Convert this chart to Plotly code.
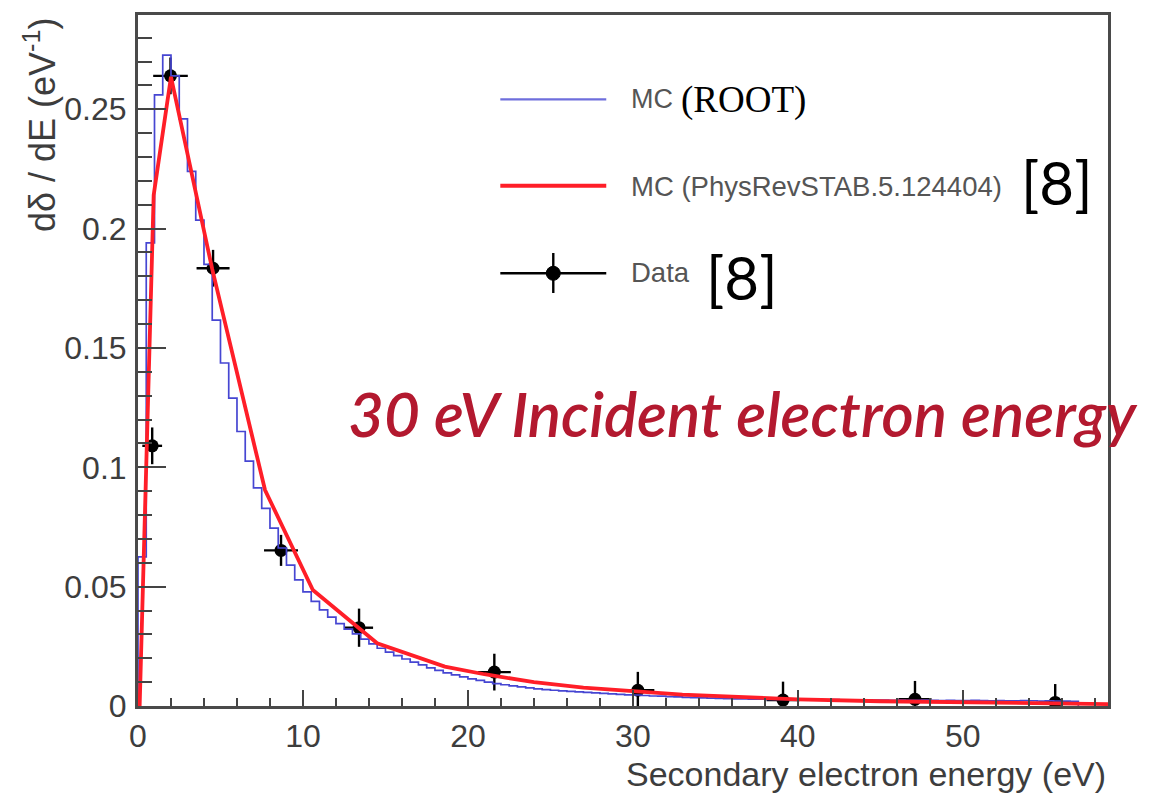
import numpy as np
import plotly.graph_objects as go

# ---------------------------------------------------------------------------
# Secondary electron spectrum for 30 eV incident electrons
# ---------------------------------------------------------------------------

# MC (ROOT) histogram: 0.5 eV bins starting at 0 eV, dδ/dE per bin
BIN_WIDTH = 0.5
mc_root = [
    0.0625, 0.1940, 0.2560, 0.2727, 0.2640, 0.2460, 0.2240, 0.2036, 0.1850, 0.1617,
    0.1437, 0.1290, 0.1150, 0.1026, 0.0914, 0.0828, 0.0745, 0.0662, 0.0590, 0.0528,
    0.0478, 0.0438, 0.0403, 0.0372, 0.0345, 0.0322, 0.0302, 0.0280, 0.0260, 0.0242,
    0.0226, 0.0211, 0.0197, 0.0184, 0.0172, 0.0160, 0.0149, 0.0139, 0.0130, 0.0122,
    0.0114, 0.0107, 0.0100, 0.0094, 0.0089, 0.0084, 0.0080, 0.0076, 0.0072, 0.0069,
    0.0066, 0.0063, 0.0061, 0.0059, 0.0057, 0.0055, 0.0053, 0.0051, 0.0049, 0.0047,
    0.0046, 0.0044, 0.0042, 0.0041, 0.0039, 0.0038, 0.0036, 0.0035, 0.0034, 0.0033,
    0.0032, 0.0031, 0.0030, 0.0030, 0.0029, 0.0029, 0.0028, 0.0028, 0.0028, 0.0027,
    0.0027, 0.0027, 0.0027, 0.0026, 0.0027, 0.0026, 0.0026, 0.0025, 0.0026, 0.0025,
    0.0025, 0.0024, 0.0025, 0.0024, 0.0024, 0.0025, 0.0024, 0.0023, 0.0024, 0.0023,
    0.0023, 0.0024, 0.0023, 0.0022, 0.0023, 0.0022, 0.0022, 0.0023, 0.0022, 0.0021,
    0.0022, 0.0021, 0.0021, 0.0020,
]

# MC (PhysRevSTAB.5.124404) curve
mc_prstab_e = [0.1, 0.95, 2.0, 4.5, 7.7, 10.6, 14.5, 18.6, 21.0, 24.0, 27.0,
               30.0, 33.0, 36.0, 40.0, 45.0, 50.0, 55.0, 58.8]
mc_prstab_y = [0.0, 0.214, 0.2636, 0.183, 0.0905, 0.0486, 0.0263, 0.0165, 0.0133,
               0.0100, 0.0077, 0.0062, 0.0048, 0.0039, 0.0028, 0.0020, 0.0015,
               0.0011, 0.0008]

# Measured data points with errors
data_e = [0.86, 1.97, 4.55, 8.67, 13.4, 21.6, 30.3, 39.1, 47.1, 55.6]
data_y = [0.109, 0.264, 0.1834, 0.0652, 0.0328, 0.0142, 0.0066, 0.0025, 0.0028, 0.0015]
data_ex = [0.6, 1.05, 1.0, 1.03, 0.85, 1.0, 1.0, 1.0, 1.0, 1.0]
data_ey = [0.0077, 0.0077, 0.0077, 0.0065, 0.0080, 0.0077, 0.0077, 0.0077, 0.0077, 0.0077]

X_RANGE = [0, 58.8]
Y_RANGE = [0, 0.2895]
x_ticks = [0, 10, 20, 30, 40, 50]
y_ticks = [0, 0.05, 0.1, 0.15, 0.2, 0.25]
y_ticktext = ["0", "0.05", "0.1", "0.15", "0.2", "0.25"]

# ---------------------------------------------------------------------------
W, H = 1168, 794
L, R, T, B = 137.5, 1108.0, 15.0, 706.0   # frame edges in pixels


def px(xp):
    return (xp - L) / (R - L)


def py(yp):
    return (B - yp) / (B - T)


TXT = "#3d3d3d"
SANS = "Liberation Sans, Arial, Helvetica, sans-serif"

# histogram outline (step line, closed down to the axis at both ends)
edges = np.arange(len(mc_root) + 1) * BIN_WIDTH
hx = [edges[0]] + list(edges[:-1]) + [edges[-1], edges[-1]]
hy = [0.0] + list(mc_root) + [mc_root[-1], 0.0]

fig = go.Figure()

fig.add_trace(go.Scatter(
    x=data_e, y=data_y, mode="markers",
    marker=dict(color="black", size=13),
    error_x=dict(type="data", array=data_ex, color="black", thickness=2.4, width=0),
    error_y=dict(type="data", array=data_ey, color="black", thickness=2.4, width=0),
    name="Data",
))

fig.add_trace(go.Scatter(
    x=hx, y=hy, mode="lines", line_shape="hv",
    line=dict(color="rgb(70,70,210)", width=1.7),
    name="MC (ROOT)",
))

fig.add_trace(go.Scatter(
    x=mc_prstab_e, y=mc_prstab_y, mode="lines",
    line=dict(color="rgb(255,30,40)", width=3.8),
    name="MC (PhysRevSTAB.5.124404)",
))

axis_common = dict(
    showgrid=False, zeroline=False,
    showline=True, linecolor="#4a4a4a", linewidth=3, mirror=True,
    ticks="inside", tickcolor="#444444", tickwidth=2,
    tickfont=dict(family=SANS, size=32, color=TXT),
)

fig.update_xaxes(
    range=X_RANGE, tickvals=x_ticks, ticklen=16,
    minor=dict(dtick=2, tick0=0, ticks="inside", ticklen=8,
               tickcolor="#444444", tickwidth=2),
    ticklabelstandoff=0,
    **axis_common,
)
fig.update_yaxes(
    range=Y_RANGE, tickvals=y_ticks, ticktext=y_ticktext, ticklen=28,
    minor=dict(dtick=0.01, tick0=0, ticks="inside", ticklen=14,
               tickcolor="#444444", tickwidth=2),
    ticklabelstandoff=2,
    **axis_common,
)

annotations = [
    # axis titles
    dict(text="Secondary electron energy (eV)", xref="paper", yref="paper",
         x=1.0, y=py(774), xanchor="right", yanchor="middle", showarrow=False,
         font=dict(family=SANS, size=34, color=TXT)),
    dict(text="dδ / dE (eV<sup>-1</sup>)", xref="paper", yref="paper",
         x=px(39), y=1.0, xanchor="center", yanchor="top", textangle=-90,
         showarrow=False, font=dict(family=SANS, size=36, color=TXT)),
    # legend labels
    dict(text="MC", xref="paper", yref="paper", x=px(629), y=py(99),
         xanchor="left", yanchor="middle", showarrow=False,
         font=dict(family=SANS, size=27, color="#555555")),
    dict(text="(ROOT)", xref="paper", yref="paper", x=px(679), y=py(100),
         xanchor="left", yanchor="middle", showarrow=False,
         font=dict(family="Liberation Serif, Times New Roman, serif", size=37, color="black")),
    dict(text="MC (PhysRevSTAB.5.124404)", xref="paper", yref="paper", x=px(629), y=py(186),
         xanchor="left", yanchor="middle", showarrow=False,
         font=dict(family=SANS, size=27.5, color="#555555")),
    dict(text="[8]", xref="paper", yref="paper", x=px(1019), y=py(182),
         xanchor="left", yanchor="middle", showarrow=False,
         font=dict(family="Lato, sans-serif", size=60, color="black")),
    dict(text="Data", xref="paper", yref="paper", x=px(629), y=py(272),
         xanchor="left", yanchor="middle", showarrow=False,
         font=dict(family=SANS, size=27.5, color="#555555")),
    dict(text="[8]", xref="paper", yref="paper", x=px(704), y=py(277),
         xanchor="left", yanchor="middle", showarrow=False,
         font=dict(family="Lato, sans-serif", size=60, color="black")),
    # incident energy label
    dict(text="30 eV Incident electron energy", xref="paper", yref="paper",
         x=px(346), y=py(413), xanchor="left", yanchor="middle", showarrow=False,
         font=dict(family="Lato, sans-serif", size=62, color="#B3192F",
                   style="italic", weight=600)),
]

# legend sample symbols
shapes = [
    dict(type="line", xref="paper", yref="paper", x0=px(500), x1=px(606),
         y0=py(99.3), y1=py(99.3), line=dict(color="rgb(110,110,220)", width=2.2)),
    dict(type="line", xref="paper", yref="paper", x0=px(500), x1=px(606),
         y0=py(185.7), y1=py(185.7), line=dict(color="rgb(255,30,40)", width=4)),
    dict(type="line", xref="paper", yref="paper", x0=px(500), x1=px(606),
         y0=py(273.3), y1=py(273.3), line=dict(color="black", width=2.4)),
    dict(type="line", xref="paper", yref="paper", x0=px(553), x1=px(553),
         y0=py(253), y1=py(293), line=dict(color="black", width=2.4)),
    dict(type="circle", xref="paper", yref="paper", x0=px(546), x1=px(560),
         y0=py(266.3), y1=py(280.3), fillcolor="black", line=dict(color="black", width=1)),
]

fig.update_layout(
    width=W, height=H, autosize=False,
    margin=dict(l=L, r=W - R, t=T, b=H - B, pad=0),
    plot_bgcolor="white", paper_bgcolor="white",
    showlegend=False,
    annotations=annotations,
    shapes=shapes,
)

fig.write_html("out.html")
